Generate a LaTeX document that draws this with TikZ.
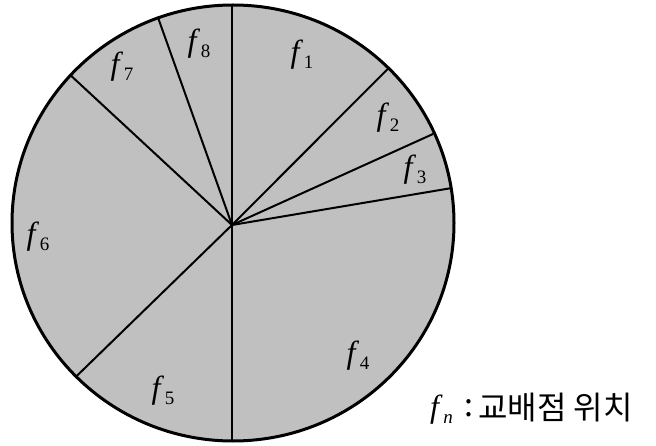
\documentclass[tikz,border=0pt]{standalone}
\usepackage{fontspec}
\setmainfont{Liberation Serif}
\newfontfamily\krfont{Noto Sans CJK KR}
\definecolor{piegray}{RGB}{192,192,192}
\newcommand\flab[1]{\textit{f}\kern0.02em\raisebox{-0.38ex}{\fontsize{19}{21}\selectfont #1}}
\begin{document}
\begin{tikzpicture}[x=1pt,y=-1pt,
  spoke/.style={line width=2pt},
  rim/.style={line width=3pt},
  lab/.style={font=\fontsize{32}{36}\selectfont, inner sep=0pt},
  legk/.style={font=\krfont\fontsize{32}{36}\selectfont, inner sep=0pt, anchor=west}]
\useasboundingbox (0,0) rectangle (656,446);
\coordinate (c) at (232,225);
\coordinate (p1) at (232,5);
\coordinate (p2) at (387.7,69);
\coordinate (p3) at (433,134);
\coordinate (p4) at (452,188);
\coordinate (p5) at (232,441);
\coordinate (p6) at (76.7,376);
\coordinate (p7) at (71,75.7);
\coordinate (p8) at (157.7,16.7);
\fill[piegray] (233,223) ellipse [x radius=221, y radius=218];
\foreach \p in {p1,p2,p3,p4,p5,p6,p7,p8} \draw[spoke] (c) -- (\p);
\draw[rim] (233,223) ellipse [x radius=221, y radius=218];
\node[lab] (f1) at (302,55) {\flab{1}};
\node[lab] (f2) at (388,118) {\flab{2}};
\node[lab] (f3) at (415,170) {\flab{3}};
\node[lab] (f4) at (358,356) {\flab{4}};
\node[lab] (f5) at (163,391) {\flab{5}};
\node[lab] (f6) at (38,237) {\flab{6}};
\node[lab] (f7) at (122,67) {\flab{7}};
\node[lab] (f8) at (199,44) {\flab{8}};
\node[lab, anchor=west] (fn) at (430,410) {\textit{f}\kern0.02em\raisebox{-0.38ex}{\fontsize{19}{21}\selectfont\textit{n}}};
\node[legk] (colon) at (464,408) {:};
\node[legk] (leg) at (478,408) {교배점 위치};
\end{tikzpicture}
\end{document}
